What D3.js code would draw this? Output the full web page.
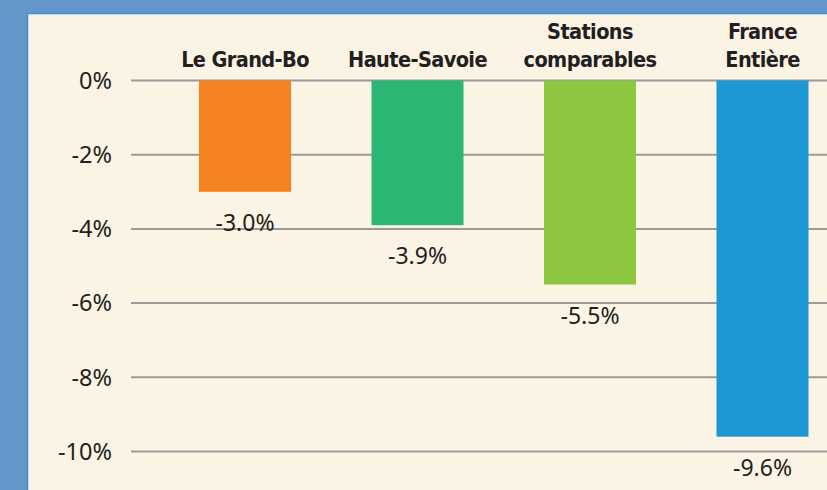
<!DOCTYPE html>
<html>
<head>
<meta charset="utf-8">
<script src="https://cdn.jsdelivr.net/npm/d3@7"></script>
<style>
  html, body { margin: 0; padding: 0; background: #6496cc; }
  svg { display: block; }
</style>
</head>
<body>
<div id="chart"></div>
<script>
let w = 827;
let h = 490;

// data
let categories = ["Le Grand-Bo", "Haute-Savoie", "Stations\ncomparables", "France\nEntière"];
let values = [-3.0, -3.9, -5.5, -9.6];
let valueLabels = ["-3.0%", "-3.9%", "-5.5%", "-9.6%"];
let tickValues = [0, -2, -4, -6, -8, -10];
let colors = ["#f58220", "#2db673", "#8dc63f", "#1e98d4"];

let svg = d3.select("#chart")
  .append("svg")
  .attr("width", w)
  .attr("height", h);

// blue frame + cream panel
svg.append("rect")
  .attr("width", w).attr("height", h)
  .attr("fill", "#6496cc");

svg.append("rect")
  .attr("x", 27.5).attr("y", 13.5)
  .attr("width", w).attr("height", h)
  .attr("fill", "#fbf3e4")
  .attr("stroke", "#3f8fd8")
  .attr("stroke-width", 1.5);

let yScale = d3.scaleLinear()
  .domain([0, -10])
  .range([80.5, 451.5]);

let xScale = d3.scalePoint()
  .domain(categories)
  .range([245, 762.5]);

let barW = 92;

// gridlines
svg.append("g")
  .selectAll("line")
  .data(tickValues)
  .join("line")
  .attr("x1", 131)
  .attr("x2", w)
  .attr("y1", d => yScale(d))
  .attr("y2", d => yScale(d))
  .attr("stroke", "#9a9a9a")
  .attr("stroke-width", 2);

// y tick labels
svg.append("g")
  .selectAll("text")
  .data(tickValues)
  .join("text")
  .attr("x", 112)
  .attr("y", d => yScale(d))
  .attr("dy", "0.35em")
  .attr("text-anchor", "end")
  .style("font-family", "'Noto Sans', 'Open Sans', sans-serif")
  .style("font-size", "23.5px")
  .style("fill", "#231f20")
  .text(d => d + "%");

// bars
svg.append("g")
  .selectAll("rect")
  .data(values)
  .join("rect")
  .attr("x", (d, i) => xScale(categories[i]) - barW / 2)
  .attr("y", yScale(0))
  .attr("width", barW)
  .attr("height", d => yScale(d) - yScale(0))
  .attr("fill", (d, i) => colors[i]);

// value labels under bars
svg.append("g")
  .selectAll("text")
  .data(values)
  .join("text")
  .attr("x", (d, i) => xScale(categories[i]))
  .attr("y", d => yScale(d) + 39)
  .attr("text-anchor", "middle")
  .style("font-family", "'Noto Sans', 'Open Sans', sans-serif")
  .style("font-size", "23px")
  .style("fill", "#231f20")
  .text((d, i) => valueLabels[i]);

// category labels on top
let catG = svg.append("g");
categories.forEach(function (c) {
  let lines = c.split("\n");
  let t = catG.append("text")
    .attr("text-anchor", "middle")
    .style("font-family", "'DejaVu Sans Condensed', 'Liberation Sans Narrow', sans-serif")
    .style("font-weight", "bold")
    .style("font-size", "21.5px")
    .style("letter-spacing", "-0.6px")
    .style("fill", "#231f20");
  lines.forEach(function (line, j) {
    t.append("tspan")
      .attr("x", xScale(c))
      .attr("y", 67 - (lines.length - 1 - j) * 28)
      .text(line);
  });
});
</script>
</body>
</html>
